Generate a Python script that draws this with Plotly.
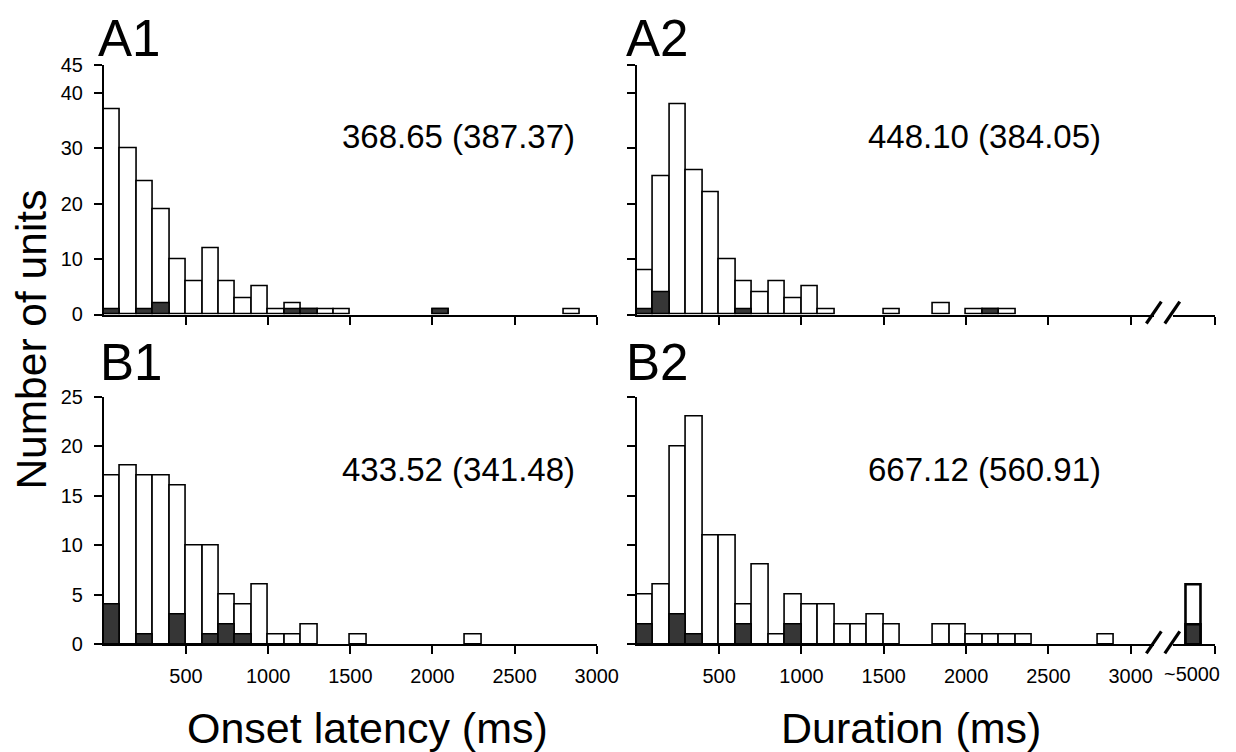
import plotly.graph_objects as go

# ---------------- data (counts per 100-ms bin, bins start at 0 ... 2900) ----------------
bin_starts = list(range(0, 3000, 100))
bin_width = 100

a1_total = [37, 30, 24, 19, 10, 6, 12, 6, 3, 5, 1, 2, 1, 1, 1, 0, 0, 0, 0, 0, 1, 0, 0, 0, 0, 0, 0, 0, 1, 0]
a1_dark  = [1, 0, 1, 2, 0, 0, 0, 0, 0, 0, 0, 1, 1, 0, 0, 0, 0, 0, 0, 0, 1, 0, 0, 0, 0, 0, 0, 0, 0, 0]

a2_total = [8, 25, 38, 26, 22, 10, 6, 4, 6, 3, 5, 1, 0, 0, 0, 1, 0, 0, 2, 0, 1, 1, 1, 0, 0, 0, 0, 0, 0, 0]
a2_dark  = [1, 4, 0, 0, 0, 0, 1, 0, 0, 0, 0, 0, 0, 0, 0, 0, 0, 0, 0, 0, 0, 1, 0, 0, 0, 0, 0, 0, 0, 0]

b1_total = [17, 18, 17, 17, 16, 10, 10, 5, 4, 6, 1, 1, 2, 0, 0, 1, 0, 0, 0, 0, 0, 0, 1, 0, 0, 0, 0, 0, 0, 0]
b1_dark  = [4, 0, 1, 0, 3, 0, 1, 2, 1, 0, 0, 0, 0, 0, 0, 0, 0, 0, 0, 0, 0, 0, 0, 0, 0, 0, 0, 0, 0, 0]

b2_total = [5, 6, 20, 23, 11, 11, 4, 8, 1, 5, 4, 4, 2, 2, 3, 2, 0, 0, 2, 2, 1, 1, 1, 1, 0, 0, 0, 0, 1, 0]
b2_dark  = [2, 0, 3, 1, 0, 0, 2, 0, 0, 2, 0, 0, 0, 0, 0, 0, 0, 0, 0, 0, 0, 0, 0, 0, 0, 0, 0, 0, 0, 0]

# overflow bin for durations (3000 ~ 5000 ms)
overflow_edges = [3000, 5000]
a2_overflow_total, a2_overflow_dark = 0, 0
b2_overflow_total, b2_overflow_dark = 6, 2

stats_text = {"A1": "368.65 (387.37)", "A2": "448.10 (384.05)",
              "B1": "433.52 (341.48)", "B2": "667.12 (560.91)"}

x_ticks = [500, 1000, 1500, 2000, 2500, 3000]
ya_ticks = [0, 10, 20, 30, 40, 45]
yb_ticks = [0, 5, 10, 15, 20, 25]

# ---------------- layout helpers ----------------
PAGE_MARGIN = 8
W, H = 1236, 752
# measured mapping of page pixels to the photographed picture
SX, BX = 0.98455, -1.45
SY, BY = 0.97167, 9.83

def fx(q):
    """picture x pixel -> paper fraction"""
    p = (q - BX) / SX
    return (p - PAGE_MARGIN) / W

def fy(q):
    """picture y pixel -> paper fraction"""
    p = (q - BY) / SY
    return 1 - (p - PAGE_MARGIN) / H

FS = 1 / ((SX + SY) / 2)   # font compensation
FONT = "Liberation Sans, Arial, Helvetica, sans-serif"
DARK = "#363636"
LW = 1.6

fig = go.Figure()

def add_hist(total, dark, xa, ya):
    xs = [s + bin_width / 2 for s, t in zip(bin_starts, total) if t > 0]
    ts = [t for t in total if t > 0]
    fig.add_trace(go.Bar(x=xs, y=ts, width=bin_width, xaxis=xa, yaxis=ya,
                         marker=dict(color="white", line=dict(color="black", width=LW)),
                         showlegend=False, hoverinfo="skip"))
    xd = [s + bin_width / 2 for s, d in zip(bin_starts, dark) if d > 0]
    ds = [d for d in dark if d > 0]
    fig.add_trace(go.Bar(x=xd, y=ds, width=bin_width, xaxis=xa, yaxis=ya,
                         marker=dict(color=DARK, line=dict(color="black", width=LW)),
                         showlegend=False, hoverinfo="skip"))

add_hist(a1_total, a1_dark, "x", "y")
add_hist(a2_total, a2_dark, "x2", "y2")
add_hist(b1_total, b1_dark, "x3", "y3")
add_hist(b2_total, b2_dark, "x4", "y4")

# overflow bars (3000~5000), drawn on the short axis segment after the break
ov_center = sum(overflow_edges) / 2
for tot, dk, xa, ya in [(a2_overflow_total, a2_overflow_dark, "x6", "y2"),
                        (b2_overflow_total, b2_overflow_dark, "x5", "y4")]:
    fig.add_trace(go.Scatter(x=[ov_center], y=[0], xaxis=xa, yaxis=ya, mode="markers",
                             marker=dict(opacity=0), showlegend=False, hoverinfo="skip"))
    if tot > 0:
        fig.add_trace(go.Bar(x=[ov_center], y=[tot], width=720, xaxis=xa, yaxis=ya,
                             marker=dict(color="white", line=dict(color="black", width=2.6)),
                             showlegend=False, hoverinfo="skip"))
    if dk > 0:
        fig.add_trace(go.Bar(x=[ov_center], y=[dk], width=720, xaxis=xa, yaxis=ya,
                             marker=dict(color=DARK, line=dict(color="black", width=2.6)),
                             showlegend=False, hoverinfo="skip"))

# ---------------- axes ----------------
left_dom = [fx(102.5), fx(596.6)]
right_main_dom = [fx(636.8), fx(1155)]
right_main_max = (1155 - 636.8) / 0.165
right_ov_dom = [fx(1174), fx(1216)]
ya_dom = [fy(313.4), fy(64)]
yb_dom = [fy(643.5), fy(395.5)]

xcommon = dict(showline=True, linecolor="black", linewidth=2, ticks="outside",
               ticklen=8, tickwidth=1.6, tickcolor="black", showgrid=False,
               zeroline=False, tickfont=dict(size=19.5 * FS, color="black", family=FONT))
ycommon = dict(showline=True, linecolor="black", linewidth=2, ticks="outside",
               ticklen=8, tickwidth=1.6, tickcolor="black", showgrid=False,
               zeroline=False, ticklabelstandoff=7,
               tickfont=dict(size=19.5 * FS, color="black", family=FONT))

fig.update_layout(
    xaxis=dict(domain=left_dom, range=[0, 3000], anchor="y", tickvals=x_ticks,
               showticklabels=False, **xcommon),
    yaxis=dict(domain=ya_dom, range=[0, 45], anchor="x", tickvals=ya_ticks, **ycommon),
    xaxis2=dict(domain=right_main_dom, range=[0, right_main_max], anchor="y2",
                tickvals=x_ticks, showticklabels=False, **xcommon),
    yaxis2=dict(domain=ya_dom, range=[0, 45], anchor="x2", tickvals=ya_ticks,
                showticklabels=False, **ycommon),
    xaxis3=dict(domain=left_dom, range=[0, 3000], anchor="y3", tickvals=x_ticks,
                ticklabelstandoff=5, **xcommon),
    yaxis3=dict(domain=yb_dom, range=[0, 25], anchor="x3", tickvals=yb_ticks, **ycommon),
    xaxis4=dict(domain=right_main_dom, range=[0, right_main_max], anchor="y4",
                tickvals=x_ticks, ticklabelstandoff=5, **xcommon),
    yaxis4=dict(domain=yb_dom, range=[0, 25], anchor="x4", tickvals=yb_ticks,
                showticklabels=False, **ycommon),
    xaxis5=dict(domain=right_ov_dom, range=overflow_edges, anchor="y4",
                tickvals=[overflow_edges[1]], showticklabels=False, **xcommon),
    xaxis6=dict(domain=right_ov_dom, range=overflow_edges, anchor="y2",
                tickvals=[overflow_edges[1]], showticklabels=False, **xcommon),
    barmode="overlay",
    bargap=0,
    width=W, height=H,
    margin=dict(l=0, r=0, t=0, b=0),
    plot_bgcolor="white", paper_bgcolor="white",
    font=dict(family=FONT, color="black"),
)

annotations = []
# panel labels
for lab, xp, yp in [("A1", 94.5, 37), ("A2", 624, 37), ("B1", 97, 361), ("B2", 624, 361)]:
    annotations.append(dict(text=lab, x=fx(xp), y=fy(yp), xref="paper", yref="paper",
                            xanchor="left", yanchor="middle", showarrow=False,
                            font=dict(size=50 * FS, family=FONT, color="black")))
# statistics
for lab, xp, yp in [("A1", 458, 135), ("A2", 985, 135), ("B1", 458, 469), ("B2", 985, 469)]:
    annotations.append(dict(text=stats_text[lab], x=fx(xp), y=fy(yp), xref="paper", yref="paper",
                            xanchor="center", yanchor="middle", showarrow=False,
                            font=dict(size=33, family=FONT, color="black")))
# continuation of the "3000" tick label on the broken axis
annotations.append(dict(text=f"~{overflow_edges[1]}", x=fx(1193), xref="paper",
                        y=fy(673), yref="paper", xanchor="center",
                        yanchor="middle", showarrow=False,
                        font=dict(size=19.5 * FS, family=FONT, color="black")))
# axis titles
annotations.append(dict(text="Number of units", x=fx(30), y=fy(339), xref="paper", yref="paper",
                        textangle=-90, showarrow=False, xanchor="center", yanchor="middle",
                        font=dict(size=42.5, family=FONT, color="black")))
annotations.append(dict(text="Onset latency (ms)", x=fx(367), y=fy(727), xref="paper", yref="paper",
                        showarrow=False, xanchor="center", yanchor="middle",
                        font=dict(size=43, family=FONT, color="black")))
annotations.append(dict(text="Duration (ms)", x=fx(912), y=fy(727), xref="paper", yref="paper",
                        showarrow=False, xanchor="center", yanchor="middle",
                        font=dict(size=43, family=FONT, color="black")))
fig.update_layout(annotations=annotations)

# axis break marks
shapes = []
for base in (313.4, 643.5):
    for x0 in (1147.5, 1166):
        shapes.append(dict(type="line", xref="paper", yref="paper",
                           x0=fx(x0), y0=fy(base + 9), x1=fx(x0 + 15), y1=fy(base - 13),
                           line=dict(color="black", width=3.2)))
fig.update_layout(shapes=shapes)

fig.write_html("out.html")
